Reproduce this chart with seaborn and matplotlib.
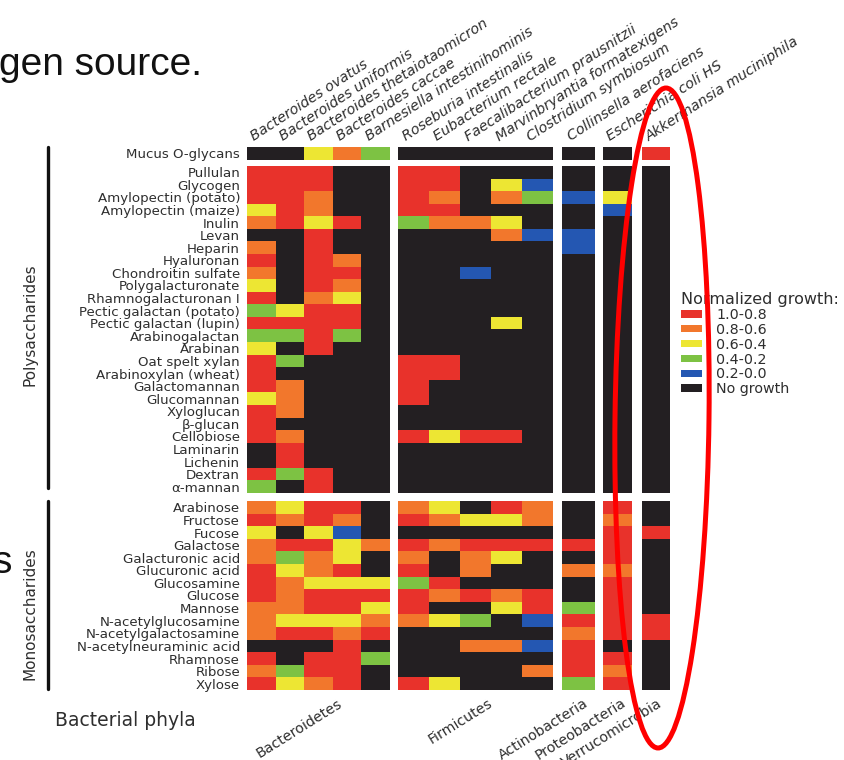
import numpy as np
import pandas as pd
import matplotlib
matplotlib.use("Agg")
import matplotlib.pyplot as plt
import seaborn as sns
from matplotlib.colors import ListedColormap
from matplotlib.patches import Ellipse, Patch
from matplotlib.lines import Line2D
from matplotlib.transforms import IdentityTransform, ScaledTranslation

# ---------------- data ----------------
bacteria = ["Bacteroides ovatus", "Bacteroides uniformis", "Bacteroides thetaiotaomicron",
            "Bacteroides caccae", "Barnesiella intestinihominis", "Roseburia intestinalis",
            "Eubacterium rectale", "Faecalibacterium prausnitzii", "Marvinbryantia formatexigens",
            "Clostridium symbiosum", "Collinsella aerofaciens", "Escherichia coli HS",
            "Akkermansia muciniphila"]
phyla = ["Bacteroidetes", "Firmicutes", "Actinobacteria", "Proteobacteria", "Verrucomicrobia"]
phylum_sizes = [5, 5, 1, 1, 1]

mucus_label = ["Mucus O-glycans"]
polysaccharides = ["Pullulan", "Glycogen", "Amylopectin (potato)", "Amylopectin (maize)", "Inulin",
                   "Levan", "Heparin", "Hyaluronan", "Chondroitin sulfate", "Polygalacturonate",
                   "Rhamnogalacturonan I", "Pectic galactan (potato)", "Pectic galactan (lupin)",
                   "Arabinogalactan", "Arabinan", "Oat spelt xylan", "Arabinoxylan (wheat)",
                   "Galactomannan", "Glucomannan", "Xyloglucan", "\u03b2-glucan", "Cellobiose",
                   "Laminarin", "Lichenin", "Dextran", "\u03b1-mannan"]
monosaccharides = ["Arabinose", "Fructose", "Fucose", "Galactose", "Galacturonic acid",
                   "Glucuronic acid", "Glucosamine", "Glucose", "Mannose", "N-acetylglucosamine",
                   "N-acetylgalactosamine", "N-acetylneuraminic acid", "Rhamnose", "Ribose", "Xylose"]

# growth class: 5 = 1.0-0.8, 4 = 0.8-0.6, 3 = 0.6-0.4, 2 = 0.4-0.2, 1 = 0.2-0.0, 0 = no growth
growth_levels = ["No growth", "0.2-0.0", "0.4-0.2", "0.6-0.4", "0.8-0.6", "1.0-0.8"]

mucus_growth = [[0, 0, 3, 4, 2, 0, 0, 0, 0, 0, 0, 0, 5]]

poly_growth = [
    [5, 5, 5, 0, 0, 5, 5, 0, 0, 0, 0, 0, 0],
    [5, 5, 5, 0, 0, 5, 5, 0, 3, 1, 0, 0, 0],
    [5, 5, 4, 0, 0, 5, 4, 0, 4, 2, 1, 3, 0],
    [3, 5, 4, 0, 0, 5, 5, 0, 0, 0, 0, 1, 0],
    [4, 5, 3, 5, 0, 2, 4, 4, 3, 0, 0, 0, 0],
    [0, 0, 5, 0, 0, 0, 0, 0, 4, 1, 1, 0, 0],
    [4, 0, 5, 0, 0, 0, 0, 0, 0, 0, 1, 0, 0],
    [5, 0, 5, 4, 0, 0, 0, 0, 0, 0, 0, 0, 0],
    [4, 0, 5, 5, 0, 0, 0, 1, 0, 0, 0, 0, 0],
    [3, 0, 5, 4, 0, 0, 0, 0, 0, 0, 0, 0, 0],
    [5, 0, 4, 3, 0, 0, 0, 0, 0, 0, 0, 0, 0],
    [2, 3, 5, 5, 0, 0, 0, 0, 0, 0, 0, 0, 0],
    [5, 5, 5, 5, 0, 0, 0, 0, 3, 0, 0, 0, 0],
    [2, 2, 5, 2, 0, 0, 0, 0, 0, 0, 0, 0, 0],
    [3, 0, 5, 0, 0, 0, 0, 0, 0, 0, 0, 0, 0],
    [5, 2, 0, 0, 0, 5, 5, 0, 0, 0, 0, 0, 0],
    [5, 0, 0, 0, 0, 5, 5, 0, 0, 0, 0, 0, 0],
    [5, 4, 0, 0, 0, 5, 0, 0, 0, 0, 0, 0, 0],
    [3, 4, 0, 0, 0, 5, 0, 0, 0, 0, 0, 0, 0],
    [5, 4, 0, 0, 0, 0, 0, 0, 0, 0, 0, 0, 0],
    [5, 0, 0, 0, 0, 0, 0, 0, 0, 0, 0, 0, 0],
    [5, 4, 0, 0, 0, 5, 3, 5, 5, 0, 0, 0, 0],
    [0, 5, 0, 0, 0, 0, 0, 0, 0, 0, 0, 0, 0],
    [0, 5, 0, 0, 0, 0, 0, 0, 0, 0, 0, 0, 0],
    [5, 2, 5, 0, 0, 0, 0, 0, 0, 0, 0, 0, 0],
    [2, 0, 5, 0, 0, 0, 0, 0, 0, 0, 0, 0, 0],
]

mono_growth = [
    [4, 3, 5, 5, 0, 4, 3, 0, 5, 4, 0, 5, 0],
    [5, 4, 5, 4, 0, 5, 4, 3, 3, 4, 0, 4, 0],
    [3, 0, 3, 1, 0, 0, 0, 0, 0, 0, 0, 5, 5],
    [4, 5, 5, 3, 4, 5, 4, 5, 5, 5, 5, 5, 0],
    [4, 2, 4, 3, 0, 4, 0, 4, 3, 0, 0, 5, 0],
    [5, 3, 4, 5, 0, 5, 0, 4, 0, 0, 4, 4, 0],
    [5, 4, 3, 3, 3, 2, 5, 0, 0, 0, 0, 5, 0],
    [5, 4, 5, 5, 5, 5, 4, 5, 4, 5, 0, 5, 0],
    [4, 4, 5, 5, 3, 5, 0, 0, 3, 5, 2, 5, 0],
    [4, 3, 3, 3, 4, 4, 3, 2, 0, 1, 5, 5, 5],
    [4, 5, 5, 4, 5, 0, 0, 0, 0, 0, 4, 5, 5],
    [0, 0, 0, 5, 0, 0, 0, 4, 4, 1, 5, 0, 0],
    [5, 0, 5, 5, 2, 0, 0, 0, 0, 0, 5, 5, 0],
    [4, 2, 5, 5, 0, 0, 0, 0, 0, 4, 5, 4, 0],
    [5, 3, 4, 5, 0, 5, 3, 0, 0, 0, 2, 5, 0],
]

# ---------------- style ----------------
palette = ["#231f22", "#2457b2", "#7dc243", "#ede633", "#f2772c", "#e8322b"]
cmap = ListedColormap(palette)

sns.set_theme(style="white")
plt.rcParams["font.family"] = ["DejaVu Sans"]

W, H = 845, 760
fig = plt.figure(figsize=(W / 100, H / 100), dpi=100)
fig.patch.set_facecolor("white")


def rect(x0, x1, y0, y1):
    return [x0 / W, 1 - y1 / H, (x1 - x0) / W, (y1 - y0) / H]


col_blocks = [(247, 390), (398, 553), (562, 595), (603, 632), (642, 670)]
row_blocks = [(147, 159.5), (166, 493), (501, 690)]
row_groups = [(mucus_label, mucus_growth), (polysaccharides, poly_growth),
              (monosaccharides, mono_growth)]

label_color = "#2e2e2e"
starts = np.cumsum([0] + phylum_sizes)
name_shift = ScaledTranslation(-7 / 100, 6 / 100, fig.dpi_scale_trans)

for r, ((names, values), (y0, y1)) in enumerate(zip(row_groups, row_blocks)):
    df = pd.DataFrame(values, index=names, columns=bacteria)
    for c, (x0, x1) in enumerate(col_blocks):
        sub = df.iloc[:, starts[c]:starts[c + 1]]
        ax = fig.add_axes(rect(x0, x1, y0, y1))
        sns.heatmap(sub, ax=ax, cmap=cmap, vmin=-0.5, vmax=5.5, cbar=False,
                    xticklabels=False, yticklabels=False, linewidths=0)
        ax.set_xlabel("")
        ax.set_ylabel("")
        if c == 0:
            ax.set_yticks(np.arange(len(names)) + 0.5)
            ax.set_yticklabels(names, rotation=0, fontsize=9.6, color=label_color)
            ax.tick_params(axis="y", length=0, pad=5)
        if r == 0:
            for i, name in enumerate(sub.columns):
                ax.text(i + 0.5, 1.0, name, transform=ax.get_xaxis_transform() + name_shift,
                        rotation=33, ha="left", va="baseline", rotation_mode="anchor",
                        fontsize=10.3, fontstyle="italic", color=label_color)
        if r == 2:
            center = (x0 + x1) / 2
            offsets = [19, 12, 5, 3, 1]
            fig.text((center + offsets[c]) / W, 1 - 696 / H, phyla[c], rotation=32,
                     ha="right", va="top", rotation_mode="anchor", fontsize=10.2,
                     color=label_color)

# group bars and labels
for (ya, yb), text, yc in [((147, 488), "Polysaccharides", 325), ((501, 689), "Monosaccharides", 614)]:
    fig.add_artist(Line2D([48 / W, 48 / W], [1 - ya / H, 1 - yb / H], color="#111111", lw=2.4))
    fig.text(30 / W, 1 - yc / H, text, rotation=90, ha="center", va="center",
             fontsize=11, color=label_color)

fig.text(55 / W, 1 - 720 / H, "Bacterial phyla", ha="left", va="center", fontsize=13.5,
         color=label_color)

# legend
handles = [Patch(facecolor=palette[i], edgecolor="none") for i in range(5, -1, -1)]
labels = [growth_levels[i] for i in range(5, -1, -1)]
leg = fig.legend(handles, labels, loc="upper left", bbox_to_anchor=(679 / W, 1 - 290 / H),
                 frameon=False, title="Normalized growth:", title_fontsize=11.5, fontsize=10.3,
                 handlelength=1.45, handleheight=0.42, handletextpad=1.0, labelspacing=0.06,
                 alignment="left", borderpad=0.15, borderaxespad=0)
for t in leg.get_texts():
    t.set_color(label_color)
leg.get_title().set_color(label_color)

# slide text fragments
fig.text(-1 / W, 1 - 75 / H, "gen source.", ha="left", va="baseline", fontsize=28,
         family=["Liberation Sans", "DejaVu Sans"], color="#111111")
fig.text(-7 / W, 1 - 573 / H, "s", ha="left", va="baseline", fontsize=28,
         family=["Liberation Sans", "DejaVu Sans"], color="#111111")

# red annotation ellipse
ell = Ellipse(xy=(662, H - 418), width=94, height=660, angle=-0.7, fill=False,
              edgecolor="#ff0000", lw=3.6, transform=IdentityTransform(), zorder=20)
fig.add_artist(ell)

fig.savefig("out.png", dpi=100)
